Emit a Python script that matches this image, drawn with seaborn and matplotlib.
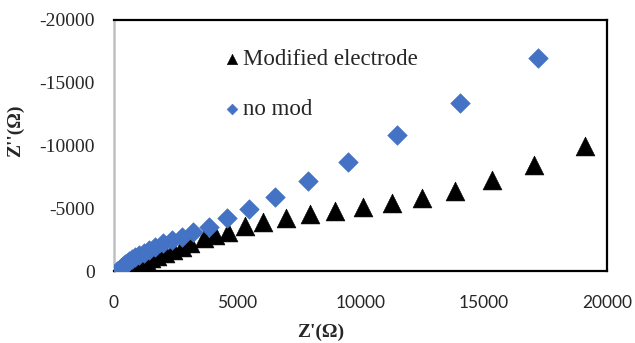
import pandas as pd
import matplotlib
matplotlib.use('Agg')
import matplotlib.pyplot as plt
import seaborn as sns

# Nyquist data (Z' and Z'' in ohm)
mod_x = [19100, 17040, 15320, 13830, 12510, 11280, 10100, 8980, 7940, 6970,
         6060, 5310, 4640, 4100, 3650, 3080, 2750, 2410, 2070, 1730,
         1500, 1310, 1150, 1010, 890, 790, 710, 640, 580, 530, 490]
mod_y = [-10000, -8450, -7250, -6400, -5790, -5390, -5080, -4800, -4540, -4250,
         -3930, -3590, -3130, -2870, -2600, -2210, -1940, -1670, -1460, -1200,
         -1020, -860, -720, -590, -470, -360, -260, -170, -100, -40, -10]

nomod_x = [17200, 14050, 11500, 9480, 7860, 6530, 5480, 4570, 3850, 3190,
           2750, 2340, 2000, 1680, 1420, 1200, 1010, 860, 730, 620,
           530, 450, 380, 320, 270, 230, 190, 150, 120]
nomod_y = [-17000, -13400, -10800, -8710, -7150, -5920, -4940, -4200, -3530, -3130,
           -2730, -2470, -2200, -1950, -1650, -1450, -1250, -1080, -930, -790,
           -660, -540, -430, -330, -240, -160, -90, -40, -10]

x_ticks = [0, 5000, 10000, 15000, 20000]
y_ticks = [0, -5000, -10000, -15000, -20000]

df_mod = pd.DataFrame({'x': mod_x, 'y': mod_y})
df_nomod = pd.DataFrame({'x': nomod_x, 'y': nomod_y})

sns.set_style('white')
plt.rcParams['axes.unicode_minus'] = False

fig = plt.figure(figsize=(6.35, 3.43), dpi=100)
ax = fig.add_axes([0.1795, 0.2099, 0.7764, 0.7318])

sns.scatterplot(data=df_mod, x='x', y='y', marker='^', s=185, color='black',
                edgecolor='black', linewidth=0.4, label='Modified electrode', ax=ax, zorder=3)
sns.scatterplot(data=df_nomod, x='x', y='y', marker='D', s=100, color='#4472C4',
                edgecolor='#4472C4', linewidth=0.4, label='no mod', ax=ax, zorder=4)

ax.set_xlim(0, 20000)
ax.set_ylim(0, -20000)
ax.set_xticks(x_ticks)
ax.set_yticks(y_ticks)
ax.set_xticklabels([str(v) for v in x_ticks], family='Lato', fontsize=12.5)
ax.set_yticklabels([str(v) for v in y_ticks], family='Liberation Serif', fontsize=14)
ax.tick_params(axis='x', length=0, pad=17)
ax.tick_params(axis='y', length=0, pad=14)

ax.set_xlabel("Z'(Ω)", family='Liberation Serif', fontweight='bold', fontsize=14)
ax.set_ylabel("Z''(Ω)", family='Liberation Serif', fontweight='bold', fontsize=14)
ax.xaxis.set_label_coords(0.42, -0.21)
ax.yaxis.set_label_coords(-0.183, 0.56)

for side in ['top', 'right', 'bottom']:
    ax.spines[side].set_color('black')
    ax.spines[side].set_linewidth(1.6)
ax.spines['left'].set_color('#c0c0c0')
ax.spines['left'].set_linewidth(1.8)
ax.grid(False)

leg = ax.legend(loc='upper left', bbox_to_anchor=(0.209, 0.92), frameon=False,
                prop={'family': 'Liberation Serif', 'size': 16.5},
                markerscale=0.55, handlelength=0.5, handletextpad=0.25,
                labelspacing=1.25, borderaxespad=0)

fig.savefig('out.png', dpi=100)
